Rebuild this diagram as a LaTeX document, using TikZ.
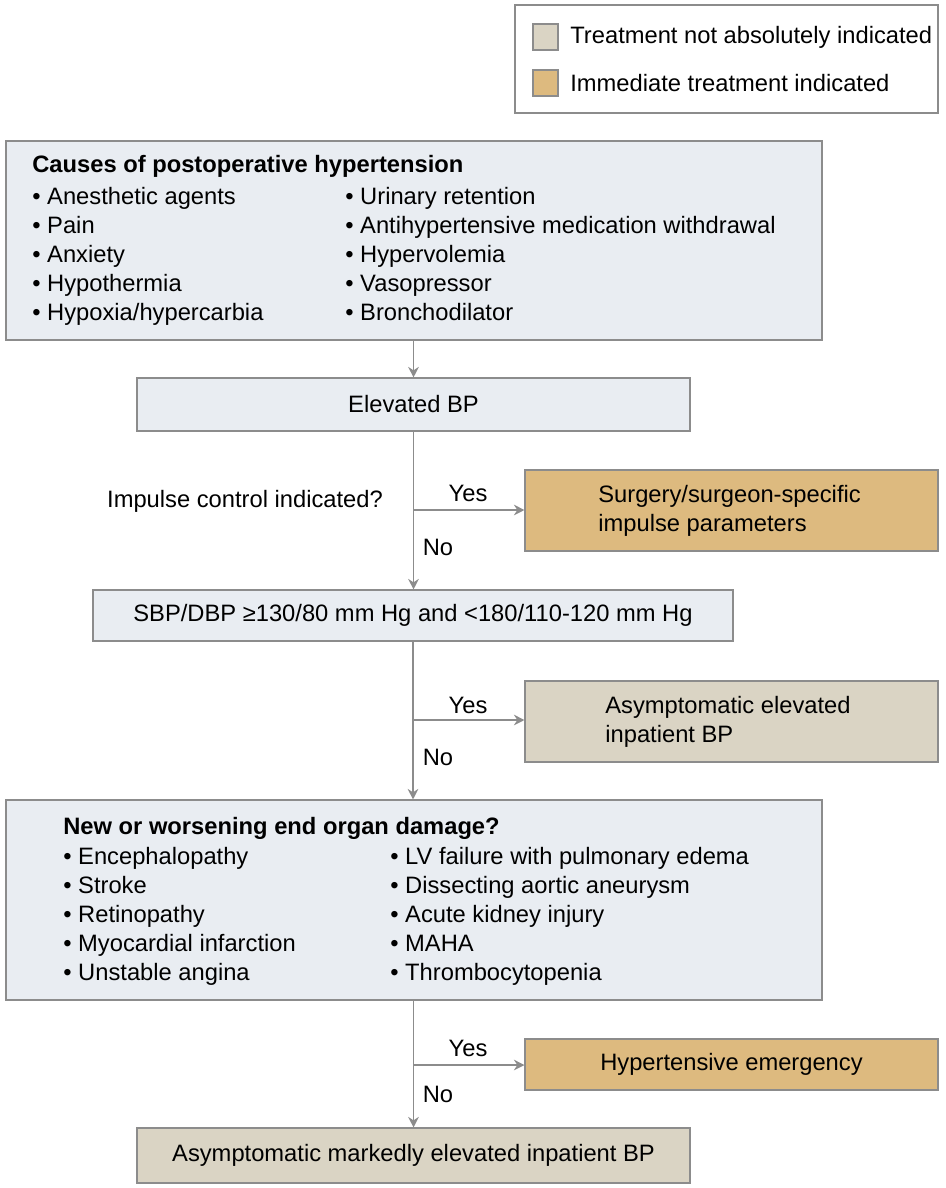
\documentclass[tikz,border=0pt]{standalone}
\usepackage{fontspec}
\setmainfont{Liberation Sans}
\usetikzlibrary{arrows.meta,positioning}
\definecolor{boxfill}{HTML}{E9EDF2}
\definecolor{urgent}{HTML}{DDBA7F}
\definecolor{notabs}{HTML}{DAD4C4}
\definecolor{edge}{HTML}{8C8C8C}
\tikzset{x=0.2mm,y=-0.2mm,
  every node/.style={font=\fontsize{13.5}{16.5}\selectfont,text=black},
  box/.style={draw=edge,line width=0.6pt,inner sep=0pt},
  bw/.style={minimum width=#1*0.2mm},
  bh/.style={minimum height=#1*0.2mm},
  txt/.style={anchor=west,inner sep=0pt,align=left},
  flow/.style={draw=edge,line width=0.8pt,-{Stealth[length=6pt,width=6pt]}},
  lbl/.style={inner sep=0pt}}
\newcommand{\bl}{\textbullet\ }
\begin{document}
\begin{tikzpicture}
\useasboundingbox (0,0) rectangle (945,1188);
% legend
\draw[box,fill=white] (515,5) rectangle (938,113);
\draw[box,fill=notabs] (533,24) rectangle (558,50);
\draw[box,fill=urgent] (533,70) rectangle (558,96);
\node[txt] (legA) at (570,37) {Treatment not absolutely indicated};
\node[txt] (legB) at (570,83) {Immediate treatment indicated};
% causes
\node[box,fill=boxfill,bw=816,bh=199] (causes) at (414,240.5) {};
\node[txt] (causesT) at (32,166) {\textbf{Causes of postoperative hypertension}};
\node[txt,anchor=north west] (causesA) at (32,187) {\bl Anesthetic agents\\\bl Pain\\\bl Anxiety\\\bl Hypothermia\\\bl Hypoxia/hypercarbia};
\node[txt,anchor=north west] (causesB) at (345,187) {\bl Urinary retention\\\bl Antihypertensive medication withdrawal\\\bl Hypervolemia\\\bl Vasopressor\\\bl Bronchodilator};
% elevated
\node[box,fill=boxfill,bw=553,bh=53] (elev) at (413.5,404.5) {Elevated BP};
\node[box,fill=urgent,bw=413,bh=81] (impulse) at (731.5,510.5) {};
\node[txt] at (598,510.5) {Surgery/surgeon-specific\\impulse parameters};
\node[box,fill=boxfill,bw=640,bh=51] (sbp) at (413,615.5) {SBP/DBP ≥130/80 mm Hg and <180/110-120 mm Hg};
\node[box,fill=notabs,bw=413,bh=81] (asym) at (731.5,721.5) {};
\node[txt] at (605,721.5) {Asymptomatic elevated\\inpatient BP};
% organ damage
\node[box,fill=boxfill,bw=816,bh=200] (organ) at (414,900) {};
\node[txt] (organT) at (63,828) {\textbf{New or worsening end organ damage?}};
\node[txt,anchor=north west] (organA) at (63,847) {\bl Encephalopathy\\\bl Stroke\\\bl Retinopathy\\\bl Myocardial infarction\\\bl Unstable angina};
\node[txt,anchor=north west] (organB) at (390,847) {\bl LV failure with pulmonary edema\\\bl Dissecting aortic aneurysm\\\bl Acute kidney injury\\\bl MAHA\\\bl Thrombocytopenia};
\node[box,fill=urgent,bw=413,bh=51] (emerg) at (731.5,1064.5) {Hypertensive emergency};
\node[box,fill=notabs,bw=553,bh=55] (marked) at (413.5,1155.5) {Asymptomatic markedly elevated inpatient BP};
% connectors
\coordinate (j1) at (413,510);
\coordinate (j2) at (413,720);
\coordinate (j3) at (413,1065);
\draw[flow] (causes.south -| elev.north) -- (elev.north);
\draw[flow] (elev.south) -- (elev.south |- sbp.north);
\draw[flow] (j1) -- (impulse.west |- j1);
\draw[flow] (sbp.south) -- (sbp.south |- organ.north);
\draw[flow] (j2) -- (asym.west |- j2);
\draw[flow] (organ.south -| marked.north) -- (marked.north);
\draw[flow] (j3) -- (emerg.west |- j3);
\node[lbl] at (245,501) {Impulse control indicated?};
\node[lbl] at (468,493) {Yes};
\node[lbl] at (438,547) {No};
\node[lbl] at (468,705) {Yes};
\node[lbl] at (438,757) {No};
\node[lbl] at (468,1048) {Yes};
\node[lbl] at (438,1094) {No};
\end{tikzpicture}
\end{document}
